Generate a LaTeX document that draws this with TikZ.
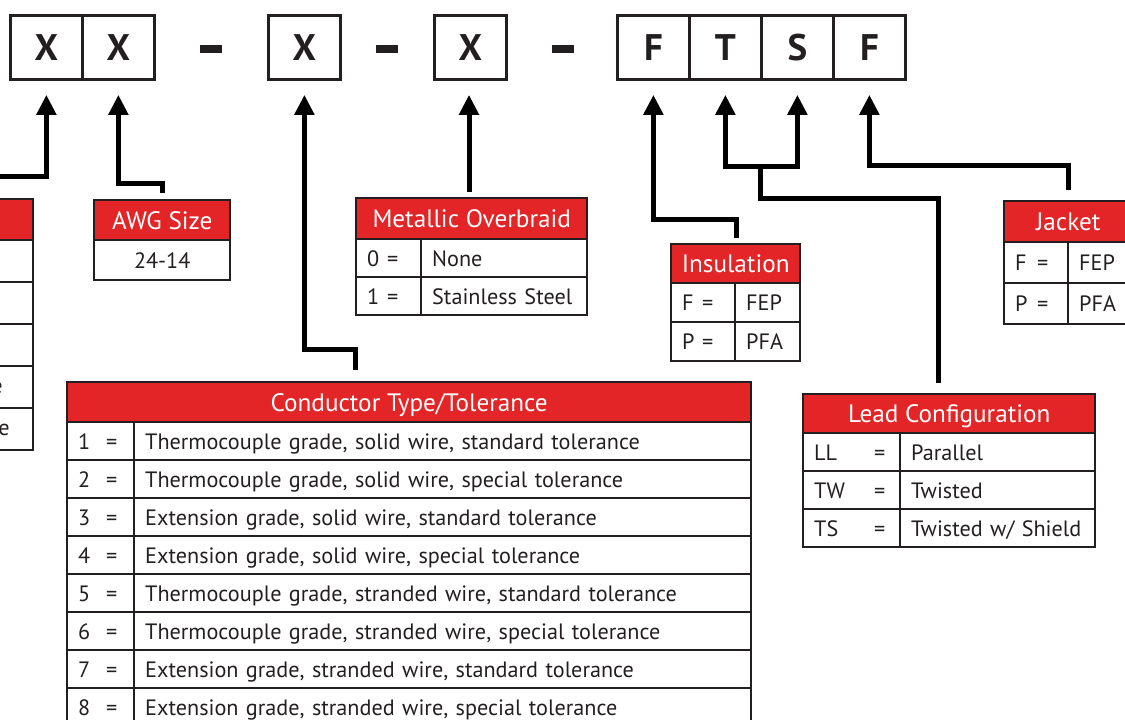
\documentclass[tikz,border=0pt]{standalone}
\usepackage{fontspec}
\setmainfont{PT Sans}
\usetikzlibrary{arrows.meta}
\definecolor{tcred}{RGB}{227,37,39}
\definecolor{tcline}{RGB}{35,31,32}
\newcommand{\keyeq}[2]{\makebox[#1][l]{#2}=}
\begin{document}
\begin{tikzpicture}[x=0.5pt, y=-0.5pt]
\tikzset{
  digit/.style={draw=tcline, line width=1.4pt, minimum width=36pt, minimum height=32pt, inner sep=0, anchor=north west, text height=13pt, text depth=0pt, font=\fontsize{18.5}{19}\selectfont\bfseries, text=tcline},
  dashbar/.style={fill=tcline, minimum width=11pt, minimum height=4pt, inner sep=0},
  hdr/.style={draw=tcline, line width=1.2pt, fill=tcred, text=white, anchor=north west, minimum height=20pt, inner sep=0, text height=9pt, text depth=0pt, font=\fontsize{12.6}{13}\selectfont},
  cellbox/.style={draw=tcline, line width=1.2pt, anchor=north west, minimum height=19pt, inner xsep=5.5pt, inner ysep=0, align=left, text height=7.8pt, text depth=0pt, font=\fontsize{11.1}{12}\selectfont, text=tcline},
  celltext/.style={inner sep=0, font=\fontsize{11.1}{12}\selectfont, text=tcline},
  lead/.style={line width=2.5pt, draw=black, -{Triangle[length=10pt, width=9.5pt]}, shorten >=7pt},
  wire/.style={line width=2.5pt, draw=black},
}
\useasboundingbox (0,0) rectangle (1125,719);
\clip (0,0) rectangle (1125,719);

% part number boxes
\node[digit] (d1) at (9,14) {X};
\node[digit] (d2) at (81,14) {X};
\node[dashbar] (s1) at (211,49) {};
\node[digit] (d3) at (267,14) {X};
\node[dashbar] (s2) at (387,49) {};
\node[digit] (d4) at (433,14) {X};
\node[dashbar] (s3) at (563,49) {};
\node[digit] (dF1) at (616,14) {F};
\node[digit] (dT) at (688,14) {T};
\node[digit] (dS) at (760,14) {S};
\node[digit] (dF2) at (832,14) {F};

% left table (cut off)
\node[hdr, minimum width=91pt, minimum height=20.5pt] (lt) at (-150,198) {};
\foreach \i in {0,...,4}
  \node[cellbox, minimum width=91pt, minimum height=21pt] (lt\i) at (-150,239+42*\i) {};
\node[celltext, anchor=east] (lte3) at (3,388) {e};
\node[celltext, anchor=east] (lte4) at (10,430) {e};

% AWG size
\node[hdr, minimum width=68pt] (awg) at (93,199) {AWG Size};
\node[cellbox, text width=57pt, align=center, minimum height=20pt] (awg1) at (93,239) {24-14};

% metallic overbraid
\node[hdr, minimum width=115.5pt, minimum height=20.5pt] (mob) at (355,197) {Metallic Overbraid};
\node[cellbox, text width=21.5pt] (mk0) at (355,238) {\keyeq{10pt}{0}};
\node[cellbox, text width=72pt] (mv0) at (420,238) {None};
\node[cellbox, text width=21.5pt] (mk1) at (355,276) {\keyeq{10pt}{1}};
\node[cellbox, text width=72pt] (mv1) at (420,276) {Stainless Steel};

% insulation
\node[hdr, minimum width=64.5pt, minimum height=19.5pt] (ins) at (670,243) {Insulation};
\node[cellbox, text width=21pt, minimum height=19.5pt] (ik0) at (670,282) {\keyeq{10pt}{F}};
\node[cellbox, text width=21.5pt, minimum height=19.5pt] (iv0) at (734,282) {FEP};
\node[cellbox, text width=21pt, minimum height=19.5pt] (ik1) at (670,321) {\keyeq{10pt}{P}};
\node[cellbox, text width=21.5pt, minimum height=19.5pt] (iv1) at (734,321) {PFA};

% jacket
\node[hdr, minimum width=64pt, minimum height=20.5pt] (jac) at (1003,200) {Jacket};
\node[cellbox, text width=21pt, minimum height=20.5pt] (jk0) at (1003,241) {\keyeq{11pt}{F}};
\node[cellbox, text width=21pt, minimum height=20.5pt] (jv0) at (1067,241) {FEP};
\node[cellbox, text width=21pt, minimum height=20.5pt] (jk1) at (1003,282) {\keyeq{11pt}{P}};
\node[cellbox, text width=21pt, minimum height=20.5pt] (jv1) at (1067,282) {PFA};

% lead configuration
\node[hdr, minimum width=146pt, minimum height=19.5pt] (lcf) at (802,393) {Lead Configuration};
\foreach \k/\txt [count=\i from 0] in {LL/Parallel, TW/Twisted, TS/{Twisted w/ Shield}}{
  \node[cellbox, text width=37.5pt] (lk\i) at (802,432+38*\i) {\keyeq{30pt}{\k}};
  \node[cellbox, text width=86.5pt] (lv\i) at (899,432+38*\i) {\mbox{\txt}};
}

% conductor type / tolerance
\node[hdr, minimum width=342pt] (cond) at (66,381) {Conductor Type/Tolerance};
\foreach \k/\txt [count=\i from 0] in {
  1/{Thermocouple grade, solid wire, standard tolerance},
  2/{Thermocouple grade, solid wire, special tolerance},
  3/{Extension grade, solid wire, standard tolerance},
  4/{Extension grade, solid wire, special tolerance},
  5/{Thermocouple grade, stranded wire, standard tolerance},
  6/{Thermocouple grade, stranded wire, special tolerance},
  7/{Extension grade, stranded wire, standard tolerance},
  8/{Extension grade, stranded wire, special tolerance}}{
  \node[cellbox, text width=22.5pt] (ck\k) at (66,421+38*\i) {\keyeq{14pt}{\k}};
  \node[cellbox, text width=297.5pt] (cv\k) at (133,421+38*\i) {\txt};
}

% connectors
\coordinate (c1) at (-10,176);
\coordinate (c2) at (162,193);
\coordinate (c3) at (355,370);
\coordinate (c4) at (469,192);
\coordinate (c5) at (736,238);
\coordinate (c6) at (938,383);
\coordinate (k6) at (760,198);
\coordinate (j6) at (760,166);
\coordinate (c7) at (1068,190);
\draw[lead] (c1) -| (d1);
\draw[lead] (c2) -- ++(0,-10) -| (d2);
\draw[lead] (c3) -- ++(0,-21) -| (d3);
\draw[lead] (c4) -- (c4 |- d4.south);
\draw[lead] (c5) -- ++(0,-19) -| (dF1);
\draw[wire] (c6) |- (k6) -- (j6);
\draw[lead] (j6) -| (dT);
\draw[lead] (j6) -| (dS);
\draw[lead] (c7) -- ++(0,-25) -| (dF2);
\end{tikzpicture}
\end{document}
